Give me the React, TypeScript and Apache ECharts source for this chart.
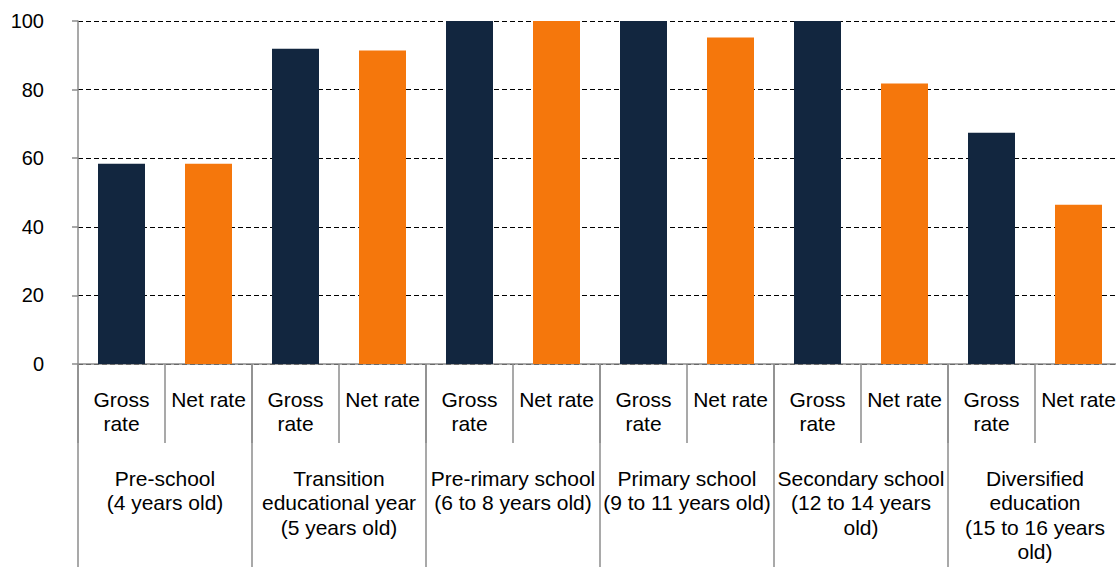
import React, { useEffect, useRef } from "react";
import * as echarts from "echarts";

// Education levels (group labels) and the two rates per level
const levels = [
  "Pre-school\n(4 years old)",
  "Transition\neducational year\n(5 years old)",
  "Pre-rimary school\n(6 to 8 years old)",
  "Primary school\n(9 to 11 years old)",
  "Secondary school\n(12 to 14 years\nold)",
  "Diversified\neducation\n(15 to 16 years\nold)",
];
const rateNames = ["Gross\nrate", "Net rate"];
const grossRate = [58.4, 91.9, 100, 100, 100, 67.4];
const netRate = [58.4, 91.4, 100, 95.2, 81.8, 46.4];
const yTicks = [0, 20, 40, 60, 80, 100];

const NAVY = "#12263f";
const ORANGE = "#f5770c";
const GREY = "#8c8c8c";
const FONT = "'Liberation Sans', Arial, sans-serif";

export default function App() {
  const ref = useRef<HTMLDivElement>(null);

  useEffect(() => {
    if (!ref.current) return;
    const chart = echarts.init(ref.current, undefined, { renderer: "svg" });

    const subCategories: string[] = [];
    const barData: any[] = [];
    levels.forEach((_, i) => {
      subCategories.push(rateNames[0], rateNames[1]);
      barData.push({ value: grossRate[i], itemStyle: { color: NAVY } });
      barData.push({ value: netRate[i], itemStyle: { color: ORANGE } });
    });

    chart.setOption({
      animation: false,
      grid: { left: 78, right: 0, top: 21, bottom: 203, containLabel: false },
      xAxis: [
        {
          type: "category",
          data: subCategories,
          position: "bottom",
          axisLine: { show: true, lineStyle: { color: GREY, width: 1.5 } },
          axisTick: { show: true, length: 79, lineStyle: { color: GREY, width: 1.5 } },
          axisLabel: {
            interval: 0,
            margin: 24,
            fontFamily: FONT,
            fontSize: 21,
            lineHeight: 23.5,
            color: "#000",
            align: "center",
          },
        },
        {
          type: "category",
          data: levels,
          position: "bottom",
          axisLine: { show: false },
          axisTick: { show: true, length: 203, lineStyle: { color: GREY, width: 1.5 } },
          axisLabel: {
            interval: 0,
            margin: 102,
            fontFamily: FONT,
            fontSize: 21,
            lineHeight: 24.5,
            color: "#000",
            align: "center",
          },
        },
      ],
      yAxis: {
        type: "value",
        min: yTicks[0],
        max: yTicks[yTicks.length - 1],
        interval: 20,
        axisLine: { show: true, lineStyle: { color: GREY, width: 1.5 } },
        axisTick: { show: true, length: 6, lineStyle: { color: GREY, width: 1.5 } },
        axisLabel: { margin: 34, fontFamily: FONT, fontSize: 20, color: "#000" },
        splitLine: { show: true, lineStyle: { color: "#000", type: [5, 3], width: 1 } },
      },
      series: [{ type: "bar", xAxisIndex: 0, barWidth: 47, data: barData }],
    });

    return () => chart.dispose();
  }, []);

  // The plot runs a few pixels past the right edge of the visible frame
  return (
    <div
      style={{ position: "fixed", left: 0, top: 0, width: 1116, height: 567, overflow: "hidden", background: "#fff" }}
    >
      <div ref={ref} style={{ width: 1122, height: 567 }} />
    </div>
  );
}
